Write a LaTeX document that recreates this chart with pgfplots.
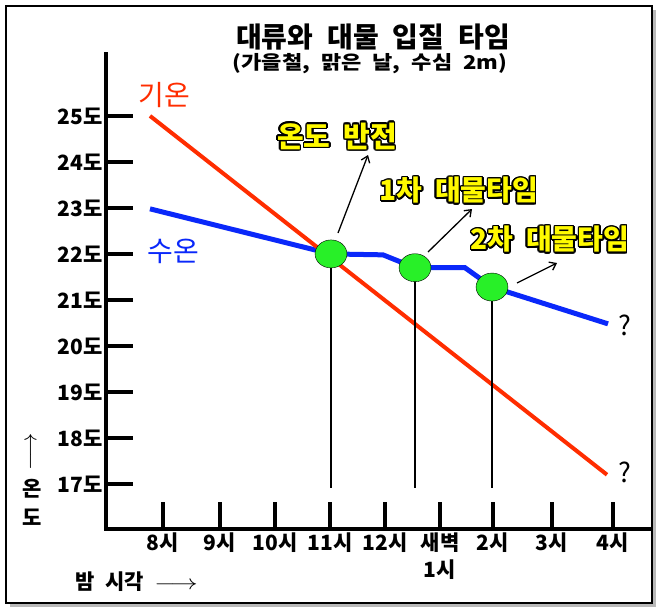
\documentclass[border=0pt]{standalone}
\usepackage{fontspec}
\setmainfont{Noto Sans CJK KR}
\usepackage{graphicx}
\usepackage{pgfplots}
\pgfplotsset{compat=1.18}
\usepackage{contour}
\usetikzlibrary{arrows.meta}
\contourlength{1.5pt}
\contournumber{16}
\definecolor{redl}{RGB}{255,45,0}
\definecolor{bluel}{RGB}{10,40,250}
\definecolor{greenc}{RGB}{40,240,40}
\definecolor{ylw}{RGB}{255,250,0}
\newcommand\fs[1]{\fontsize{#1}{#1}\selectfont}

\begin{document}
\begin{tikzpicture}[x=1pt,y=1pt]
% frame
\path (0,0) rectangle (660,-613);
\fill[gray!55] (10,-10) rectangle (656,-607);
\filldraw[fill=white,draw=black,line width=1.6pt] (6,-6) rectangle (652,-603);

\begin{axis}[
  at={(106pt,-529pt)}, anchor=south west,
  x=1pt, y=46pt,
  xmin=106, xmax=649, ymin=16.02, ymax=26.33,
  axis lines=left,
  axis line style={line width=4.5pt, -, line cap=rect},
  tick align=inside,
  major tick length=27pt,
  tick style={line width=4pt, black},
  xtick={163,220,275,330,385,440,493,552,613},
  xticklabels={8시,9시,10시,11시,12시,{새벽\\1시},2시,3시,4시},
  ytick={17,18,19,20,21,22,23,24,25},
  yticklabels={17도,18도,19도,20도,21도,22도,23도,24도,25도},
  xticklabel style={font=\bfseries\fontsize{21}{27}\selectfont, align=center},
  yticklabel style={font=\bfseries\fs{21}},
  clip=false,
]
% water temperature
\addplot[color=bluel, line width=5pt] coordinates {
  (150,22.98) (331,22.00) (383,21.98) (415,21.70) (465,21.70) (492,21.28) (608,20.48)};
% air temperature
\addplot[color=redl, line width=4pt] coordinates {(150,25.0) (607,17.2)};
% drop lines
\addplot[black, line width=1.3pt] coordinates {(331,22.00) (331,16.91)};
\addplot[black, line width=1.3pt] coordinates {(415,21.70) (415,16.91)};
\addplot[black, line width=1.3pt] coordinates {(492,21.28) (492,16.91)};
% key points
\addplot[only marks, mark=*, mark size=14pt,
  mark options={fill=greenc, draw=none, xscale=1.14}]
  coordinates {(331,22.00) (415,21.70) (492,21.28)};
\end{axis}

% titles
\node[font=\bfseries\fs{28}] at (373,-37.5) {\spaceskip=0.5em\relax 대류와 대물 입질 타임};
\node[font=\bfseries\fs{19}] at (370,-64) {\scalebox{1.16}[1]{\spaceskip=0.5em\relax (가을철, 맑은 날, 수심 2m)}};

% series labels
\node[font=\fs{28}, text=redl] at (164,-95) {기온};
\node[font=\fs{28}, text=bluel] at (173,-251) {수온};
\node[font=\fs{27}] at (625,-325) {?};
\node[font=\fs{27}] at (625,-472) {?};

% annotations
\node[font=\bfseries\fs{29}] at (337,-137) {\contour{black}{\textcolor{ylw}{\spaceskip=0.45em\relax 온도 반전}}};
\node[font=\bfseries\fs{28}] at (459,-191) {\contour{black}{\textcolor{ylw}{\spaceskip=0.45em\relax 1차 대물타임}}};
\node[font=\bfseries\fs{28}] at (550,-240) {\contour{black}{\textcolor{ylw}{\spaceskip=0.45em\relax 2차 대물타임}}};
\draw[line width=1.3pt, -{Straight Barb[length=6pt,width=9pt]}] (338,-233) -- (368,-155);
\draw[line width=1.3pt, -{Straight Barb[length=6pt,width=9pt]}] (428,-252) -- (472,-209);
\draw[line width=1.3pt, -{Straight Barb[length=6pt,width=9pt]}] (517,-283) -- (557,-263);

% axis titles
\node[font=\fs{18}] at (32,-452) {\scalebox{1.35}{\rotatebox{90}{$\longrightarrow$}}};
\node[font=\bfseries\fs{21}] at (32,-489) {온};
\node[font=\bfseries\fs{21}] at (32,-517) {도};
\node[font=\bfseries\fs{21}, anchor=west] at (72,-582) {\spaceskip=0.5em\relax 밤 시각 \scalebox{1.3}[1]{$\longrightarrow$}};
\end{tikzpicture}
\end{document}
